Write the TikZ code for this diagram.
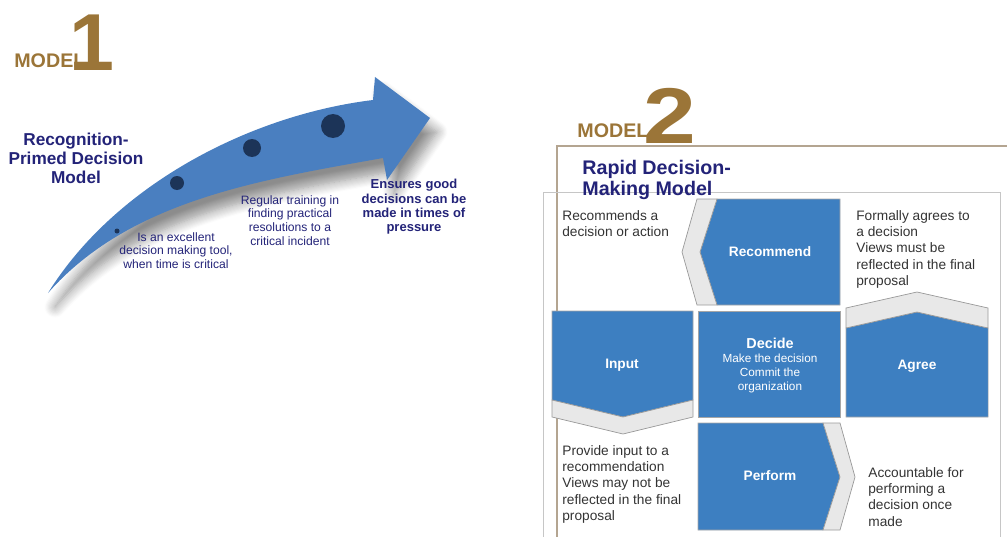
\documentclass[tikz,border=0pt]{standalone}
\usepackage{fontspec}
\setmainfont{Liberation Sans}
\usetikzlibrary{shadows.blur}

\definecolor{arrowblue}{RGB}{74,127,192}
\definecolor{boxblue}{RGB}{61,127,193}
\definecolor{navy}{RGB}{35,35,120}
\definecolor{dotblue}{RGB}{28,52,88}
\definecolor{gold}{RGB}{155,117,56}
\definecolor{descgray}{RGB}{51,51,51}
\definecolor{chevgray}{RGB}{232,232,232}

\begin{document}
\begin{tikzpicture}[x=0.02cm,y=-0.02cm,
  modeltxt/.style={anchor=base west,inner sep=0pt,text=gold,font=\fontsize{11.2}{12}\selectfont\bfseries},
  bignum/.style={anchor=base west,inner sep=0pt,text=gold,xscale=1.2,font=\fontsize{45}{50}\selectfont\bfseries},
  note/.style={anchor=north,inner sep=0pt,align=center,text=navy,font=\fontsize{6.9}{7.8}\selectfont},
  boldnote/.style={note,font=\fontsize{7.4}{8.2}\selectfont\bfseries},
  desc/.style={anchor=north west,inner sep=0pt,align=left,text=descgray,font=\fontsize{7.8}{9.3}\selectfont},
  boxlabel/.style={inner sep=0pt,align=center,text=white,font=\fontsize{7.8}{9}\selectfont\bfseries},
  bluebox/.style={fill=boxblue,draw=gray!70,line width=0.3pt},
  chevron/.style={fill=chevgray,draw=gray!80,line width=0.4pt}]
\useasboundingbox (0,0) rectangle (1007,537);

% model 1
\node[bignum,xscale=1/1.2,font=\fontsize{46}{50}\selectfont\bfseries] (num1) at (69,71) {1};
\node[modeltxt] (model1) at (14,68) {MODEL};
\fill[arrowblue, blur shadow={shadow xshift=4pt, shadow yshift=-8pt, shadow blur radius=6pt, shadow blur steps=10, shadow opacity=45}]
  (48,293) .. controls (115,185) and (250,115) .. (373,100) -- (375,77) -- (430,118)
  -- (387,180) -- (383,158) .. controls (260,180) and (130,200) .. (48,293) -- cycle;
\foreach \x/\y/\r in {117/231/2.5, 177/183/7, 252/148/9, 333/126/12}
  \fill[dotblue] (\x,\y) circle (\r);
\node[anchor=north,inner sep=0pt,align=center,text=navy,font=\fontsize{9.8}{10.8}\selectfont\bfseries] (title1) at (76,133) {Recognition-\\Primed Decision\\Model};
\node[note] (note1) at (176,232) {Is an excellent\\decision making tool,\\when time is critical};
\node[note] (note2) at (290,195) {Regular training in\\finding practical\\resolutions to a\\critical incident};
\node[boldnote] (note3) at (414,179) {Ensures good\\decisions can be\\made in times of\\pressure};

% model 2
\node[modeltxt] (model2) at (577,137) {MODEL};
\node[bignum] (num2) at (643,143) {2};
\draw[draw={rgb,255:red,180;green,165;blue,145}, line width=0.6pt] (1007,146) -- (557,146) -- (557,537);
\draw[gray!45, line width=0.5pt] (543,537) -- (543,192) -- (1000,192) -- (1000,537);
\node[anchor=north west,inner sep=0pt,align=left,text=navy,font=\fontsize{11.2}{12}\selectfont\bfseries] (title2) at (582,160) {Rapid Decision-\\Making Model};

\fill[bluebox] (717,199) -- (840,199) -- (840,305) -- (717,305) -- (700,252) -- cycle;
\filldraw[chevron] (697,199) -- (717,199) -- (700,252) -- (717,305) -- (697,305) -- (682,252) -- cycle;
\filldraw[bluebox] (552,311) -- (693,311) -- (693,400) -- (623,417) -- (552,400) -- cycle;
\filldraw[chevron] (552,400) -- (623,417) -- (693,400) -- (693,417) -- (623,434) -- (552,417) -- cycle;
\filldraw[bluebox] (698,311) rectangle (840,417);
\filldraw[bluebox] (846,328) -- (917,312) -- (988,328) -- (988,417) -- (846,417) -- cycle;
\filldraw[chevron] (846,308) -- (917,292) -- (988,308) -- (988,328) -- (917,312) -- (846,328) -- cycle;
\filldraw[bluebox] (698,423) -- (823,423) -- (840,477) -- (823,530) -- (698,530) -- cycle;
\filldraw[chevron] (823,423) -- (840,423) -- (855,477) -- (840,530) -- (823,530) -- (840,477) -- cycle;

\node[boxlabel] (recommend) at (770,252) {Recommend};
\node[boxlabel] (input) at (622,365) {Input};
\node[boxlabel] (agree) at (917,366) {Agree};
\node[boxlabel] (perform) at (770,476) {Perform};
\node[boxlabel,anchor=north,font=\fontsize{6.7}{8}\selectfont] (decide) at (770,338) {{\fontsize{8.2}{9}\selectfont\bfseries Decide}\\Make the decision\\Commit the\\organization};

\node[desc] (recdesc) at (562,210) {Recommends a\\decision or action};
\node[desc] (agreedesc) at (856,210) {Formally agrees to\\a decision\\Views must be\\reflected in the final\\proposal};
\node[desc] (inputdesc) at (562,445) {Provide input to a\\recommendation\\Views may not be\\reflected in the final\\proposal};
\node[desc] (performdesc) at (868,467) {Accountable for\\performing a\\decision once\\made};
\end{tikzpicture}
\end{document}
